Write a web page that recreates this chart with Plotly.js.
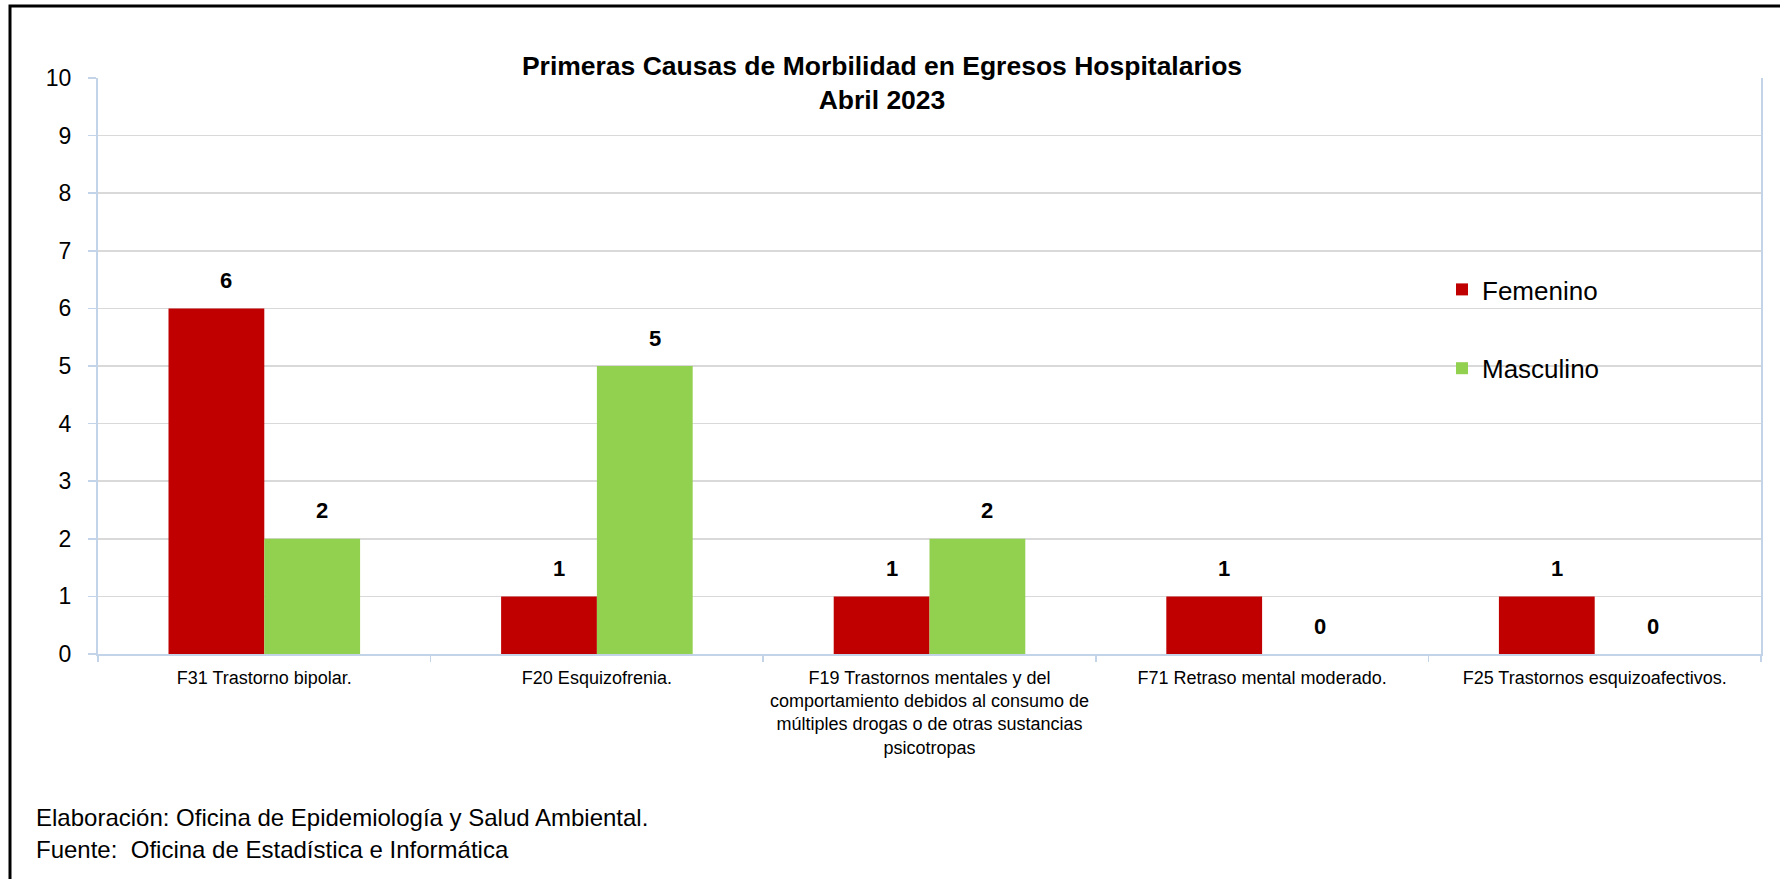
<!DOCTYPE html>
<html>
<head>
<meta charset="utf-8">
<script src="https://cdn.plot.ly/plotly-3.0.1.min.js"></script>
<style>html,body{margin:0;padding:0;background:#fff;}#chart{width:1780px;height:879px;}</style>
</head>
<body>
<div id="chart"></div>
<script>
// ---- data ----
const categories = [
  "F31 Trastorno bipolar.",
  "F20 Esquizofrenia.",
  "F19 Trastornos mentales y del<br>comportamiento debidos al consumo de<br>múltiples drogas o de otras sustancias<br>psicotropas",
  "F71 Retraso mental moderado.",
  "F25 Trastornos esquizoafectivos."
];
const femenino = [6, 1, 1, 1, 1];
const masculino = [2, 5, 2, 0, 0];
const seriesNames = ["Femenino", "Masculino"];
const yTicks = [0,1,2,3,4,5,6,7,8,9,10];
const titleLines = ["Primeras Causas de Morbilidad en Egresos Hospitalarios", "Abril 2023"];
const footerLines = ["Elaboración: Oficina de Epidemiología y Salud Ambiental.", "Fuente:  Oficina de Estadística e Informática"];

// ---- layout geometry ----
const W = 1780, H = 879;
const M = {l: 98, r: 19, t: 78, b: 225};
const plotW = W - M.l - M.r, plotH = H - M.t - M.b;
const px2x = p => (p - M.l) / plotW;
const py2y = p => (H - M.b - p) / plotH;
const FONT = "Liberation Sans, Arial, sans-serif";
const bargap = 0.424;
const barW = plotW / categories.length * (1 - bargap) / 2;
const axisBlue = "#c3d3e8";

const traces = [
  {type: "bar", name: seriesNames[0], x: categories, y: femenino,
   marker: {color: "#c00000"}, legendgroup: "f", hoverinfo: "y"},
  {type: "bar", name: seriesNames[1], x: categories, y: masculino,
   marker: {color: "#92d050"}, legendgroup: "m", hoverinfo: "y"}
];

const annotations = [];
[femenino, masculino].forEach((vals, s) => {
  vals.forEach((v, i) => {
    annotations.push({
      x: categories[i], y: v, xref: "x", yref: "y",
      xshift: (s === 0 ? -1 : 1) * barW / 2 + 10, yshift: 28,
      yanchor: "middle", xanchor: "center",
      text: "<b>" + v + "</b>", showarrow: false,
      font: {family: FONT, size: 22, color: "#000"}
    });
  });
});
footerLines.forEach((t, k) => {
  annotations.push({
    xref: "paper", yref: "paper", x: px2x(34), y: py2y(817 + k * 32),
    xanchor: "left", yanchor: "middle", text: t, showarrow: false,
    font: {family: FONT, size: 24, color: "#000"}
  });
});

const layout = {
  width: W, height: H,
  margin: {l: M.l, r: M.r, t: M.t, b: M.b, pad: 0},
  paper_bgcolor: "#fff", plot_bgcolor: "#fff",
  font: {family: FONT, color: "#000"},
  title: {
    text: "<b>" + titleLines[0] + "</b><br><b>" + titleLines[1] + "</b>",
    font: {family: FONT, size: 26.5, color: "#000"},
    xref: "paper", x: px2x(882), xanchor: "center",
    yref: "container", y: 1 - 75 / H, yanchor: "middle"
  },
  barmode: "group", bargap: bargap, bargroupgap: 0,
  showlegend: true,
  legend: {
    x: px2x(1442), xanchor: "left", y: py2y(266), yanchor: "top",
    font: {family: FONT, size: 26, color: "#000"},
    bgcolor: "rgba(0,0,0,0)", traceorder: "grouped", tracegroupgap: 42,
    itemwidth: 30
  },
  xaxis: {
    type: "category", showline: true, linecolor: axisBlue, linewidth: 2,
    ticks: "outside", tickson: "boundaries", ticklen: 6, tickcolor: axisBlue, tickwidth: 1.5,
    tickfont: {family: FONT, size: 18, color: "#000"}, showgrid: false,
    ticklabelstandoff: 6, fixedrange: true
  },
  yaxis: {
    range: [0, 10], tickvals: yTicks, showgrid: true, gridcolor: "#d9d9d9", gridwidth: 1.5,
    showline: true, linecolor: axisBlue, linewidth: 2, mirror: true, zeroline: false,
    ticks: "outside", ticklen: 8, tickcolor: axisBlue, tickwidth: 1.5,
    tickfont: {family: FONT, size: 23, color: "#000"}, ticklabelstandoff: 12, fixedrange: true
  },
  annotations: annotations,
  shapes: [{
    type: "path", xref: "paper", yref: "paper", layer: "above",
    path: "M " + px2x(10) + "," + py2y(H + 10) + " L " + px2x(10) + "," + py2y(6) + " L " + px2x(W + 10) + "," + py2y(6),
    line: {color: "#000", width: 3}
  }]
};

Plotly.newPlot("chart", traces, layout, {displayModeBar: false, staticPlot: true});
</script>
</body>
</html>
